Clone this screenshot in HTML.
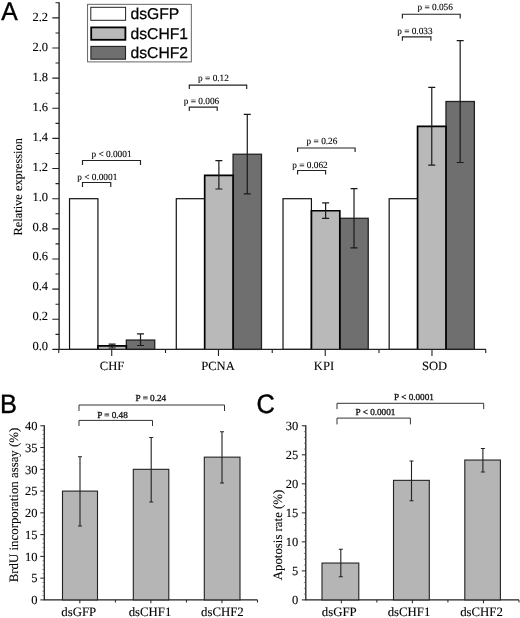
<!DOCTYPE html><html><head><meta charset="utf-8"><style>html,body{margin:0;padding:0;background:#fff}svg{display:block;will-change:transform}text{font-family:"Liberation Serif",serif;fill:#000;stroke:#000;stroke-width:0.1px;text-rendering:geometricPrecision}.ss{font-family:"Liberation Sans",sans-serif;fill:#000;stroke:none}</style></head><body>
<svg width="520" height="618" viewBox="0 0 520 618">
<rect width="520" height="618" fill="#fff"/>
<text class="ss" transform="translate(1.3 20.1) scale(0.97 1)" font-size="25.5" style="stroke:#000;stroke-width:0.4px">A</text>
<path d="M52.300000000000004 349.40H59.1M55.5 334.33H59.1M52.300000000000004 319.26H59.1M55.5 304.19H59.1M52.300000000000004 289.12H59.1M55.5 274.05H59.1M52.300000000000004 258.98H59.1M55.5 243.91H59.1M52.300000000000004 228.84H59.1M55.5 213.77H59.1M52.300000000000004 198.70H59.1M55.5 183.63H59.1M52.300000000000004 168.56H59.1M55.5 153.49H59.1M52.300000000000004 138.42H59.1M55.5 123.35H59.1M52.300000000000004 108.28H59.1M55.5 93.21H59.1M52.300000000000004 78.14H59.1M55.5 63.07H59.1M52.300000000000004 48.00H59.1M55.5 32.93H59.1M52.300000000000004 17.86H59.1M55.5 2.79H59.1" stroke="#222" stroke-width="1.1" fill="none"/>
<text x="48"  y="350.10" font-size="12.5" text-anchor="end">0.0</text>
<text x="48"  y="320.20" font-size="12.5" text-anchor="end">0.2</text>
<text x="48"  y="290.30" font-size="12.5" text-anchor="end">0.4</text>
<text x="48"  y="260.40" font-size="12.5" text-anchor="end">0.6</text>
<text x="48"  y="230.50" font-size="12.5" text-anchor="end">0.8</text>
<text x="48"  y="200.60" font-size="12.5" text-anchor="end">1.0</text>
<text x="48"  y="170.70" font-size="12.5" text-anchor="end">1.2</text>
<text x="48"  y="140.80" font-size="12.5" text-anchor="end">1.4</text>
<text x="48"  y="110.90" font-size="12.5" text-anchor="end">1.6</text>
<text x="48"  y="81.00" font-size="12.5" text-anchor="end">1.8</text>
<text x="48"  y="51.10" font-size="12.5" text-anchor="end">2.0</text>
<text x="48"  y="21.20" font-size="12.5" text-anchor="end">2.2</text>
<text transform="translate(22.1 186.8) rotate(-90)" font-size="12.4" text-anchor="middle">Relative expression</text>
<path d="M58.75 349.4V353.0M165.50 349.4V353.0M272.25 349.4V353.0M379.00 349.4V353.0M485.75 349.4V353.0M111.72 349.4V355.9M218.47 349.4V355.9M325.23 349.4V355.9M431.98 349.4V355.9" stroke="#222" stroke-width="1.1" fill="none"/>
<text x="112.1" y="369.7" font-size="12.6" text-anchor="middle">CHF</text>
<rect x="69.53" y="198.70" width="28.4" height="150.70" fill="#fff" stroke="#111" stroke-width="1.2"/>
<rect x="126.33" y="340.06" width="28.4" height="9.34" fill="#6f6f6f" stroke="#222" stroke-width="1.3"/>
<path d="M97.93 349.4V345.78h28.4V349.4" fill="#b9b9b9" stroke="#000" stroke-width="1.7"/>
<path d="M108.62 344.2h7M108.62 348h7M112.12 344.2V348" stroke="#1a1a1a" stroke-width="1.2" fill="none"/>
<path d="M137.03 333.8h7M137.03 345.5h7M140.53 333.8V345.5" stroke="#1a1a1a" stroke-width="1.2" fill="none"/>
<text x="218" y="369.7" font-size="12.6" text-anchor="middle">PCNA</text>
<rect x="176.28" y="198.70" width="28.4" height="150.70" fill="#fff" stroke="#111" stroke-width="1.2"/>
<rect x="233.07" y="154.24" width="28.4" height="195.16" fill="#6f6f6f" stroke="#222" stroke-width="1.3"/>
<path d="M204.68 349.4V175.34h28.4V349.4" fill="#b9b9b9" stroke="#000" stroke-width="1.7"/>
<path d="M215.38 160.7h7M215.38 189h7M218.88 160.7V189" stroke="#1a1a1a" stroke-width="1.2" fill="none"/>
<path d="M243.78 114.4h7M243.78 193.9h7M247.28 114.4V193.9" stroke="#1a1a1a" stroke-width="1.2" fill="none"/>
<text x="324" y="369.7" font-size="12.6" text-anchor="middle">KPI</text>
<rect x="283.02" y="198.70" width="28.4" height="150.70" fill="#fff" stroke="#111" stroke-width="1.2"/>
<rect x="339.82" y="218.29" width="28.4" height="131.11" fill="#6f6f6f" stroke="#222" stroke-width="1.3"/>
<path d="M311.42 349.4V210.76h28.4V349.4" fill="#b9b9b9" stroke="#000" stroke-width="1.7"/>
<path d="M322.12 202.9h7M322.12 218.4h7M325.62 202.9V218.4" stroke="#1a1a1a" stroke-width="1.2" fill="none"/>
<path d="M350.52 188.6h7M350.52 247.9h7M354.02 188.6V247.9" stroke="#1a1a1a" stroke-width="1.2" fill="none"/>
<text x="434.6" y="369.7" font-size="12.6" text-anchor="middle">SOD</text>
<rect x="389.17" y="198.70" width="28.4" height="150.70" fill="#fff" stroke="#111" stroke-width="1.2"/>
<rect x="445.97" y="101.50" width="28.4" height="247.90" fill="#6f6f6f" stroke="#222" stroke-width="1.3"/>
<path d="M417.57 349.4V126.36h28.4V349.4" fill="#b9b9b9" stroke="#000" stroke-width="1.7"/>
<path d="M428.27 87.3h7M428.27 165.1h7M431.77 87.3V165.1" stroke="#1a1a1a" stroke-width="1.2" fill="none"/>
<path d="M456.67 40.7h7M456.67 162.5h7M460.17 40.7V162.5" stroke="#1a1a1a" stroke-width="1.2" fill="none"/>
<path d="M59.1 2.3V349.4H486" fill="none" stroke="#222" stroke-width="1.35"/>
<path d="M82.5 165.0V160.5H140.5V165.0" stroke="#222" stroke-width="1.15" fill="none"/>
<text x="111.5" y="156.6" font-size="9.3" text-anchor="middle">p &lt; 0.0001</text>
<path d="M82.5 187.0V182.5H110.75V187.0" stroke="#222" stroke-width="1.15" fill="none"/>
<text x="97.25" y="180.3" font-size="9.3" text-anchor="middle">p &lt; 0.0001</text>
<path d="M189.3 89.1V85.1H246.7V89.1" stroke="#222" stroke-width="1.15" fill="none"/>
<text x="213.5" y="80.7" font-size="9.3" text-anchor="middle">p = 0.12</text>
<path d="M189.3 111.1V107.1H217.2V111.1" stroke="#222" stroke-width="1.15" fill="none"/>
<text x="201.5" y="104" font-size="9.3" text-anchor="middle">p = 0.006</text>
<path d="M297.6 152V148H355.1V152" stroke="#222" stroke-width="1.15" fill="none"/>
<text x="322" y="143.8" font-size="9.3" text-anchor="middle">p = 0.26</text>
<path d="M297.6 174.5V170.5H325.6V174.5" stroke="#222" stroke-width="1.15" fill="none"/>
<text x="310" y="167.6" font-size="9.3" text-anchor="middle">p = 0.062</text>
<path d="M402.4 18.6V14.2H460.2V18.6" stroke="#222" stroke-width="1.15" fill="none"/>
<text x="435.2" y="10.4" font-size="9.3" text-anchor="middle">p = 0.056</text>
<path d="M402.4 40.8V36.8H430.9V40.8" stroke="#222" stroke-width="1.15" fill="none"/>
<text x="414.9" y="33.7" font-size="9.3" text-anchor="middle">p = 0.033</text>
<rect x="87.6" y="4.3" width="103.7" height="57.6" fill="#fff" stroke="#555" stroke-width="0.9"/>
<rect x="90.8" y="7.3" width="34.8" height="13" fill="#fff" stroke="#222" stroke-width="1"/>
<rect x="91.2" y="27.4" width="34.2" height="12.4" fill="#b9b9b9" stroke="#000" stroke-width="1.8"/>
<rect x="90.9" y="46.4" width="34.6" height="12.8" fill="#6f6f6f" stroke="#222" stroke-width="1.1"/>
<text class="ss" x="130.5" y="19.3" font-size="15.7" style="stroke:#000;stroke-width:0.25px">dsGFP</text>
<text class="ss" x="130.5" y="38.7" font-size="15.7" style="stroke:#000;stroke-width:0.25px">dsCHF1</text>
<text class="ss" x="130.5" y="58" font-size="15.7" style="stroke:#000;stroke-width:0.25px">dsCHF2</text>
<text class="ss" transform="translate(0.1 412.9) scale(0.95 1)" font-size="26.7" style="stroke:#000;stroke-width:0.4px">B</text>
<path d="M44.3 425.3V599.9H257.5" fill="none" stroke="#222" stroke-width="1.3"/>
<path d="M42.4 595.55H44.3M42.4 591.19H44.3M42.4 586.84H44.3M42.4 582.49H44.3M42.4 573.78H44.3M42.4 569.43H44.3M42.4 565.08H44.3M42.4 560.73H44.3M42.4 552.02H44.3M42.4 547.67H44.3M42.4 543.32H44.3M42.4 538.97H44.3M42.4 530.26H44.3M42.4 525.91H44.3M42.4 521.55H44.3M42.4 517.20H44.3M42.4 508.50H44.3M42.4 504.14H44.3M42.4 499.79H44.3M42.4 495.44H44.3M42.4 486.74H44.3M42.4 482.38H44.3M42.4 478.03H44.3M42.4 473.68H44.3M42.4 464.97H44.3M42.4 460.62H44.3M42.4 456.27H44.3M42.4 451.92H44.3M42.4 443.21H44.3M42.4 438.86H44.3M42.4 434.50H44.3M42.4 430.15H44.3" stroke="#555" stroke-width="0.7" fill="none"/>
<path d="M40.3 599.90H44.3M40.3 578.14H44.3M40.3 556.38H44.3M40.3 534.61H44.3M40.3 512.85H44.3M40.3 491.09H44.3M40.3 469.32H44.3M40.3 447.56H44.3M40.3 425.80H44.3M79.83 599.9V603.3M115.36 599.9V602.5M150.89 599.9V603.3M186.42 599.9V602.5M221.95 599.9V603.3M257.48 599.9V602.5" stroke="#222" stroke-width="1" fill="none"/>
<text x="37.6" y="604.20" font-size="12.5" text-anchor="end">0</text>
<text x="37.6" y="582.44" font-size="12.5" text-anchor="end">5</text>
<text x="37.6" y="560.67" font-size="12.5" text-anchor="end">10</text>
<text x="37.6" y="538.91" font-size="12.5" text-anchor="end">15</text>
<text x="37.6" y="517.15" font-size="12.5" text-anchor="end">20</text>
<text x="37.6" y="495.39" font-size="12.5" text-anchor="end">25</text>
<text x="37.6" y="473.62" font-size="12.5" text-anchor="end">30</text>
<text x="37.6" y="451.86" font-size="12.5" text-anchor="end">35</text>
<text x="37.6" y="430.10" font-size="12.5" text-anchor="end">40</text>
<text transform="translate(18 505) rotate(-90)" font-size="12.85" text-anchor="middle">BrdU incorporation assay (%)</text>
<rect x="62.5" y="491.09" width="35.00" height="108.81" fill="#b5b5b5" stroke="#222" stroke-width="1.1"/>
<path d="M78 456.8h4M78 526h4M80 456.8V526" stroke="#222" stroke-width="1.1" fill="none"/>
<text x="78.70" y="615.6" font-size="12.8" text-anchor="middle">dsGFP</text>
<rect x="133.3" y="469.32" width="35.50" height="130.57" fill="#b5b5b5" stroke="#222" stroke-width="1.1"/>
<path d="M149.2 437.5h4M149.2 502h4M151.2 437.5V502" stroke="#222" stroke-width="1.1" fill="none"/>
<text x="150.05" y="615.6" font-size="12.8" text-anchor="middle">dsCHF1</text>
<rect x="204.3" y="457.14" width="35.70" height="142.76" fill="#b5b5b5" stroke="#222" stroke-width="1.1"/>
<path d="M220 431.8h4M220 483h4M222 431.8V483" stroke="#222" stroke-width="1.1" fill="none"/>
<text x="222.35" y="615.6" font-size="12.8" text-anchor="middle">dsCHF2</text>
<path d="M79 411V405H224.5V411" stroke="#333" stroke-width="1" fill="none"/>
<text x="150.9" y="401.3" font-size="9.2" text-anchor="middle" style="fill:#111;stroke:#111;stroke-width:0.3">P = 0.24</text>
<path d="M79 426.0V420.4H152.5V426.0" stroke="#333" stroke-width="1" fill="none"/>
<text x="112.5" y="417.5" font-size="9.2" text-anchor="middle" style="fill:#111;stroke:#111;stroke-width:0.3">P = 0.48</text>
<text class="ss" transform="translate(256.5 413.3) scale(0.95 1)" font-size="26.7" style="stroke:#000;stroke-width:0.4px">C</text>
<path d="M305.8 425.3V599.9H519.0" fill="none" stroke="#222" stroke-width="1.3"/>
<path d="M303.90000000000003 594.10H305.8M303.90000000000003 588.29H305.8M303.90000000000003 582.49H305.8M303.90000000000003 576.69H305.8M303.90000000000003 565.08H305.8M303.90000000000003 559.28H305.8M303.90000000000003 553.47H305.8M303.90000000000003 547.67H305.8M303.90000000000003 536.06H305.8M303.90000000000003 530.26H305.8M303.90000000000003 524.46H305.8M303.90000000000003 518.65H305.8M303.90000000000003 507.05H305.8M303.90000000000003 501.24H305.8M303.90000000000003 495.44H305.8M303.90000000000003 489.64H305.8M303.90000000000003 478.03H305.8M303.90000000000003 472.23H305.8M303.90000000000003 466.42H305.8M303.90000000000003 460.62H305.8M303.90000000000003 449.01H305.8M303.90000000000003 443.21H305.8M303.90000000000003 437.41H305.8M303.90000000000003 431.60H305.8" stroke="#555" stroke-width="0.7" fill="none"/>
<path d="M301.8 599.90H305.8M301.8 570.88H305.8M301.8 541.87H305.8M301.8 512.85H305.8M301.8 483.83H305.8M301.8 454.82H305.8M301.8 425.80H305.8M341.33 599.9V603.3M376.86 599.9V602.5M412.39 599.9V603.3M447.92 599.9V602.5M483.45 599.9V603.3M518.98 599.9V602.5" stroke="#222" stroke-width="1" fill="none"/>
<text x="298.3" y="604.20" font-size="12.5" text-anchor="end">0</text>
<text x="298.3" y="575.18" font-size="12.5" text-anchor="end">5</text>
<text x="298.3" y="546.17" font-size="12.5" text-anchor="end">10</text>
<text x="298.3" y="517.15" font-size="12.5" text-anchor="end">15</text>
<text x="298.3" y="488.13" font-size="12.5" text-anchor="end">20</text>
<text x="298.3" y="459.12" font-size="12.5" text-anchor="end">25</text>
<text x="298.3" y="430.10" font-size="12.5" text-anchor="end">30</text>
<text transform="translate(281.8 535) rotate(-90)" font-size="12.85" text-anchor="middle">Apotosis rate (%)</text>
<rect x="322" y="563.05" width="36.80" height="36.85" fill="#b5b5b5" stroke="#222" stroke-width="1.1"/>
<path d="M338.8 549.3h4M338.8 576.8h4M340.8 549.3V576.8" stroke="#222" stroke-width="1.1" fill="none"/>
<text x="339.30" y="615.6" font-size="12.8" text-anchor="middle">dsGFP</text>
<rect x="393.5" y="480.35" width="35.80" height="119.55" fill="#b5b5b5" stroke="#222" stroke-width="1.1"/>
<path d="M409.5 461h4M409.5 500.8h4M411.5 461V500.8" stroke="#222" stroke-width="1.1" fill="none"/>
<text x="409.00" y="615.6" font-size="12.8" text-anchor="middle">dsCHF1</text>
<rect x="464.8" y="460.04" width="35.60" height="139.86" fill="#b5b5b5" stroke="#222" stroke-width="1.1"/>
<path d="M480.9 448.5h4M480.9 472h4M482.9 448.5V472" stroke="#222" stroke-width="1.1" fill="none"/>
<text x="481.50" y="615.6" font-size="12.8" text-anchor="middle">dsCHF2</text>
<path d="M337 409.1V403.3H483.7V409.1" stroke="#333" stroke-width="1" fill="none"/>
<text x="414" y="399.8" font-size="9.2" text-anchor="middle" style="fill:#111;stroke:#111;stroke-width:0.3">P &lt; 0.0001</text>
<path d="M337 424.40000000000003V418.1H410.4V424.40000000000003" stroke="#333" stroke-width="1" fill="none"/>
<text x="375.5" y="415.3" font-size="9.2" text-anchor="middle" style="fill:#111;stroke:#111;stroke-width:0.3">P &lt; 0.0001</text>
</svg></body></html>
